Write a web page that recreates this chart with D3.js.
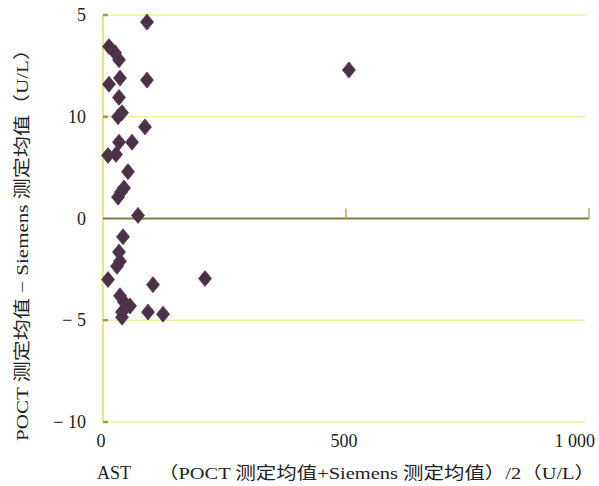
<!DOCTYPE html>
<html><head><meta charset="utf-8">
<script src="https://cdn.jsdelivr.net/npm/d3@7"></script>
<style>
html,body{margin:0;padding:0;background:#fff;}
</style></head>
<body><svg id="c" width="599" height="486"></svg>
<script>
// Data: mean of the two methods (x, U/L) and difference (y)
const meanValues = [90.5,12.3,24.7,32.9,12.3,35.0,90.5,32.9,39.1,30.9,86.4,32.9,59.7,10.3,26.8,51.4,43.2,37.0,30.9,72.0,41.2,32.9,35.0,28.8,10.3,102.9,209.9,35.0,43.2,55.6,39.1,39.1,92.6,123.5,506];
const diffValues = [19.3,16.9,16.3,15.6,13.2,13.8,13.6,11.9,10.4,10.0,9.0,7.5,7.5,6.2,6.3,4.6,3.0,2.6,2.1,0.3,-1.8,-3.3,-4.2,-4.7,-6.0,-6.5,-5.9,-7.6,-8.2,-8.6,-9.2,-9.7,-9.2,-9.4,14.6];
const yTickValues = [20,10,0,-10,-20];
const yTickLabels = ["5","10","0","− 5","− 10"];
const xTickValues = [0,500,1000];
const xTickLabels = ["0","500","1 000"];
const yTitle = "POCT 测定均值 − Siemens 测定均值（U/L）";
const xTitleA = "AST";
const xTitleB = "（POCT 测定均值+Siemens 测定均值）/2（U/L）";

const FONT = "'Liberation Serif','Times New Roman','Noto Sans CJK SC',serif";
const svg = d3.select("#c");
const x = d3.scaleLinear().domain([0,1000]).range([103,589]);
const y = d3.scaleLinear().domain([-20,20]).range([422,15]);

// gridlines
svg.append("g").selectAll("line").data(yTickValues.filter(v=>v!==0)).join("line")
  .attr("x1",x(0)).attr("x2",585).attr("y1",d=>y(d)).attr("y2",d=>y(d))
  .attr("stroke","#f4ef9c").attr("stroke-width",1.5);
// left axis line
svg.append("line").attr("x1",x(0)).attr("x2",x(0)).attr("y1",y(20)).attr("y2",y(-20))
  .attr("stroke","#ebe47e").attr("stroke-width",2);
// small tick marks on left
svg.append("g").selectAll("line").data(yTickValues.filter(v=>v!==0)).join("line")
  .attr("x1",x(0)).attr("x2",x(0)+5).attr("y1",d=>y(d)).attr("y2",d=>y(d))
  .attr("stroke","#a89858").attr("stroke-width",2.5);
// zero line
svg.append("line").attr("x1",x(0)).attr("x2",x(1000)).attr("y1",y(0)).attr("y2",y(0))
  .attr("stroke","#7f7d45").attr("stroke-width",2);
// x ticks upward on zero line
svg.append("g").selectAll("line").data(xTickValues.filter(v=>v>0)).join("line")
  .attr("x1",d=>x(d)).attr("x2",d=>x(d)).attr("y1",y(0)).attr("y2",y(0)-10)
  .attr("stroke","#b8ae5a").attr("stroke-width",1.5);

// y tick labels
svg.append("g").selectAll("text").data(yTickValues).join("text")
  .attr("x",86).attr("y",d=>y(d)+6).attr("text-anchor","end")
  .attr("font-family",FONT).attr("fill","#222")
  .attr("font-size",18).text((d,i)=>yTickLabels[i]);
// x tick labels
svg.append("g").selectAll("text").data(xTickValues).join("text")
  .attr("x",(d,i)=> i===2 ? x(d)+6 : x(d)-2)
  .attr("y",447).attr("text-anchor",(d,i)=> i===2 ? "end":"middle")
  .attr("font-family",FONT).attr("fill","#222")
  .attr("font-size",18).text((d,i)=>xTickLabels[i]);

// titles
svg.append("text").attr("x",97).attr("y",479).attr("font-size",18)
  .attr("font-family",FONT).attr("fill","#222").text(xTitleA);
svg.append("text").attr("x",158).attr("y",479).attr("font-size",17)
  .attr("font-family",FONT).attr("fill","#222")
  .attr("textLength",437).attr("lengthAdjust","spacingAndGlyphs").text(xTitleB);
svg.append("text").attr("transform","translate(28,240) rotate(-90)")
  .attr("text-anchor","middle").attr("font-size",17)
  .attr("font-family",FONT).attr("fill","#222")
  .attr("textLength",402).attr("lengthAdjust","spacingAndGlyphs").text(yTitle);

// points (diamonds)
const pts = meanValues.map((m,i)=>({m, d:diffValues[i]}));
svg.append("g").selectAll("path").data(pts).join("path")
  .attr("transform",p=>`translate(${x(p.m)},${y(p.d)})`)
  .attr("d","M0,-8L6.5,0L0,8L-6.5,0Z")
  .attr("fill","#4a3246").attr("stroke","#5a3a58").attr("stroke-width",0.8);
</script></body></html>
